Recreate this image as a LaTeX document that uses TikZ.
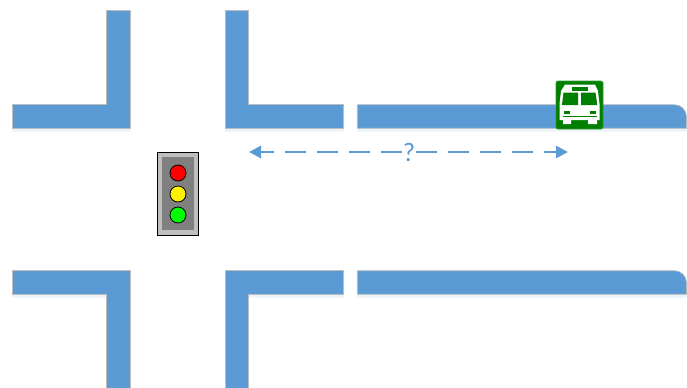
\documentclass[tikz,border=0pt]{standalone}
\usepackage{fontspec}
\usepackage{xcolor}
\setmainfont{Carlito}
\usepackage{tikz}
\usetikzlibrary{arrows.meta, shadows}
\definecolor{roadblue}{HTML}{5B9BD5}
\definecolor{roadedge}{HTML}{BDBDBD}
\definecolor{signgreen}{HTML}{008000}
\tikzset{
  road/.style={fill=roadblue,draw=roadedge,line width=0.5pt,
    drop shadow={shadow xshift=0pt,shadow yshift=-2.5pt,fill=roadblue,opacity=0.12}},
  lamp/.style={circle,draw=black,line width=0.6pt,minimum size=12pt,inner sep=0pt},
  gapline/.style={roadblue,line width=2pt,dash pattern=on 15.7pt off 8.3pt,-{Triangle[length=9pt,width=9pt]}},
  busgreen/.style={fill=signgreen,draw=signgreen!80!white,line width=0.5pt},
  buswhite/.style={fill=white,draw=none}
}
\begin{document}
\begin{tikzpicture}[x=0.75pt,y=-0.75pt,inner sep=0pt,outer sep=0pt]
\useasboundingbox (0,0) rectangle (687,387);
% roads
\draw[road] (12.3,128.3) -- (12.3,104.7) -- (106.7,104.7) -- (106.7,10) -- (130.3,10) -- (130.3,128.3) -- cycle;
\draw[road] (225,10) -- (248.3,10) -- (248.3,104.7) -- (343.3,104.7) -- (343.3,128.3) -- (225,128.3) -- cycle;
\draw[road] (357.3,128.3) -- (357.3,104.7) [rounded corners=9pt] -- (686.5,104.7) [sharp corners] -- (686.5,128.3) -- cycle;
\draw[road] (12.3,270.7) -- (130.3,270.7) -- (130.3,392) -- (106.7,392) -- (106.7,294.3) -- (12.3,294.3) -- cycle;
\draw[road] (225,392) -- (225,270.7) -- (343.3,270.7) -- (343.3,294.3) -- (248.3,294.3) -- (248.3,392) -- cycle;
\draw[road] (357.3,294.3) -- (357.3,270.7) [rounded corners=9pt] -- (686.5,270.7) [sharp corners] -- (686.5,294.3) -- cycle;
% traffic light
\draw[fill=black!25,draw=black,line width=0.6pt] (157,152) rectangle (198,235);
\fill[black!50] (162,157) rectangle (194,230);
\node[lamp,fill=red] (lampred) at (178,173) {};
\node[lamp,fill=yellow] (lampyellow) at (178,194) {};
\node[lamp,fill=green] (lampgreen) at (178,215) {};
% bus sign
\draw[busgreen,rounded corners=1.5pt] (556,81) rectangle (603,129);
\draw[buswhite] (565,84.5) -- (595,84.5) -- (598,91) -- (599.5,104) -- (599.5,120) -- (597,120) -- (597,124) -- (588,124)
  -- (588,120) -- (571,120) -- (571,124) -- (563,124) -- (563,120) -- (559.5,120) -- (559.5,104) -- (561,91) -- cycle;
\fill[signgreen] (572,86.5) rectangle (588,90.5);
\fill[signgreen] (563.5,92.5) -- (578,92.5) -- (578,105) -- (562,105) -- cycle;
\fill[signgreen] (581,92.5) -- (595.5,92.5) -- (597.3,105) -- (581,105) -- cycle;
\fill[signgreen] (564,110.5) rectangle (570,113.5);
\fill[signgreen] (590,110.5) rectangle (596,113.5);
\fill[signgreen] (563,115.5) rectangle (597,117);
% distance arrow
\coordinate (endleft) at (249,152);
\coordinate (endright) at (568,152);
\node[text=roadblue,font=\fontsize{20}{20}\selectfont,fill=white,inner xsep=0.5pt,inner ysep=1pt] (question) at (409,152) {?};
\draw[gapline] (question) -- (endleft);
\draw[gapline] (question) -- (endright);
\end{tikzpicture}
\end{document}
